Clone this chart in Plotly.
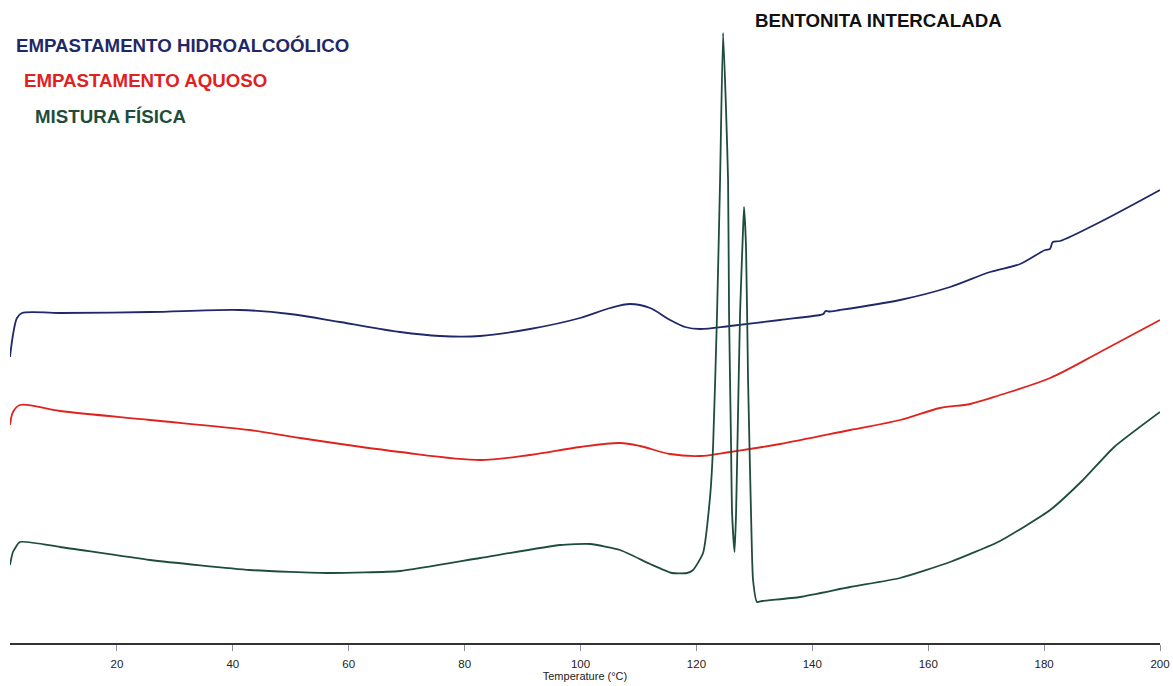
import plotly.graph_objects as go

# --- Data (temperature in °C, heat flow in arbitrary units) ---
temp_hidro = [1.54, 2.05, 2.74, 3.61, 10.17, 25.70, 41.23, 49.86, 58.49, 68.85, 75.75, 82.66,
              91.28, 99.92, 105.09, 108.55, 112.00, 115.45, 118.03, 120.62, 125.80, 134.44,
              141.34, 141.90, 142.30, 142.80, 144.79, 155.14, 163.78, 170.68, 175.86, 180.17,
              181.00, 181.50, 182.76, 189.67, 200.00]
flow_hidro = [286, 308, 325, 330, 330, 331, 333, 329, 321, 311, 307, 307,
              314, 325, 335, 339, 335, 323, 316, 314, 317, 323,
              328, 329, 332, 331.5, 333, 343, 356, 371, 379, 393,
              394, 401, 402, 421, 453]

temp_aquoso = [1.54, 2.05, 3.26, 10.17, 25.70, 42.96, 51.59, 68.85, 82.66, 91.28, 99.92,
               106.82, 110.27, 115.45, 120.62, 125.80, 134.44, 146.52, 155.14, 162.05,
               167.23, 172.40, 181.04, 189.67, 200.00]
flow_aquoso = [218, 231, 238, 232, 223, 213, 205, 191, 183, 188, 196,
               200, 197, 189, 187, 191, 199, 213, 223, 235,
               239, 248, 265, 291, 323]

temp_mistura = [1.54, 2.05, 3.26, 10.17, 25.70, 42.96, 56.76, 68.85, 82.66, 96.46, 101.64,
                106.82, 112.00, 115.79, 118.38, 119.42, 121.14, 122.35, 122.87, 123.56,
                124.08, 124.60, 125.11, 125.46, 125.63, 125.98, 126.15, 126.58, 126.84,
                127.18, 127.53, 128.04, 128.22, 128.56, 128.91, 129.42, 129.77, 130.46,
                131.33, 137.88, 146.52, 155.14, 163.78, 172.40, 181.04, 186.70, 192.10, 200.00]
flow_mistura = [78, 91, 101, 96, 83, 73, 70, 72, 85, 98, 99,
                93, 79, 70, 70, 73, 90, 146, 196, 330,
                463, 610, 533, 463, 330, 196, 130, 91, 130,
                230, 330, 413, 436, 396, 263, 130, 63, 41,
                42, 46, 56, 65, 81, 102, 133, 163, 196, 231]

tick_vals = [20, 40, 60, 80, 100, 120, 140, 160, 180, 200]
tick_text = ["20", "40", "60", "80", "100", "120", "140", "160", "180", "200"]

series_names = ["EMPASTAMENTO HIDROALCOÓLICO", "EMPASTAMENTO AQUOSO", "MISTURA FÍSICA"]
series_colors = ["#1f2868", "#e0221e", "#1f4d3c"]
series_smooth = [0.9, 0.9, 0.5]

fig = go.Figure()
for t, f, name, col, sm in zip([temp_hidro, temp_aquoso, temp_mistura],
                               [flow_hidro, flow_aquoso, flow_mistura],
                               series_names, series_colors, series_smooth):
    fig.add_trace(go.Scatter(x=t, y=f, mode="lines", name=name,
                             line=dict(color=col, width=1.8, shape="spline", smoothing=sm),
                             showlegend=False))

# Text labels (as in the original figure)
label_y = [598, 563, 527]
label_x = [14, 22, 33]
for name, col, lx, ly in zip(series_names, series_colors, label_x, label_y):
    fig.add_annotation(x=(lx - 10) / 1150, xref="paper", y=ly, yref="y",
                       text=f"<b>{name}</b>", showarrow=False, xanchor="left", yanchor="middle",
                       font=dict(family="Liberation Sans, Arial", size=18.7, color=col))
fig.add_annotation(x=(753 - 10) / 1150, xref="paper", y=623, yref="y",
                   text="<b>BENTONITA INTERCALADA</b>", showarrow=False,
                   xanchor="left", yanchor="middle",
                   font=dict(family="Liberation Sans, Arial", size=18.7, color="#111111"))

fig.update_layout(
    width=1173, height=686,
    margin=dict(l=10, r=13, t=0, b=43),
    paper_bgcolor="white", plot_bgcolor="white",
    font=dict(family="Liberation Sans, Arial", color="#222222"),
    xaxis=dict(range=[1.54, 200.0], tickvals=tick_vals, ticktext=tick_text,
               showgrid=False, zeroline=False, showline=True, linecolor="#333333", linewidth=1.5,
               ticks="outside", ticklen=6, tickcolor="#8890a8", tickwidth=1,
               ticklabelstandoff=3,
               tickfont=dict(size=11.5, color="#222222"),
               title=dict(text="Temperature (°C)", font=dict(size=11, color="#222222"), standoff=1)),
    yaxis=dict(range=[0, 643], visible=False),
)

fig.write_html("out.html", config={"displayModeBar": False},
               post_script="document.body.style.margin='0';document.body.style.overflow='hidden';")
